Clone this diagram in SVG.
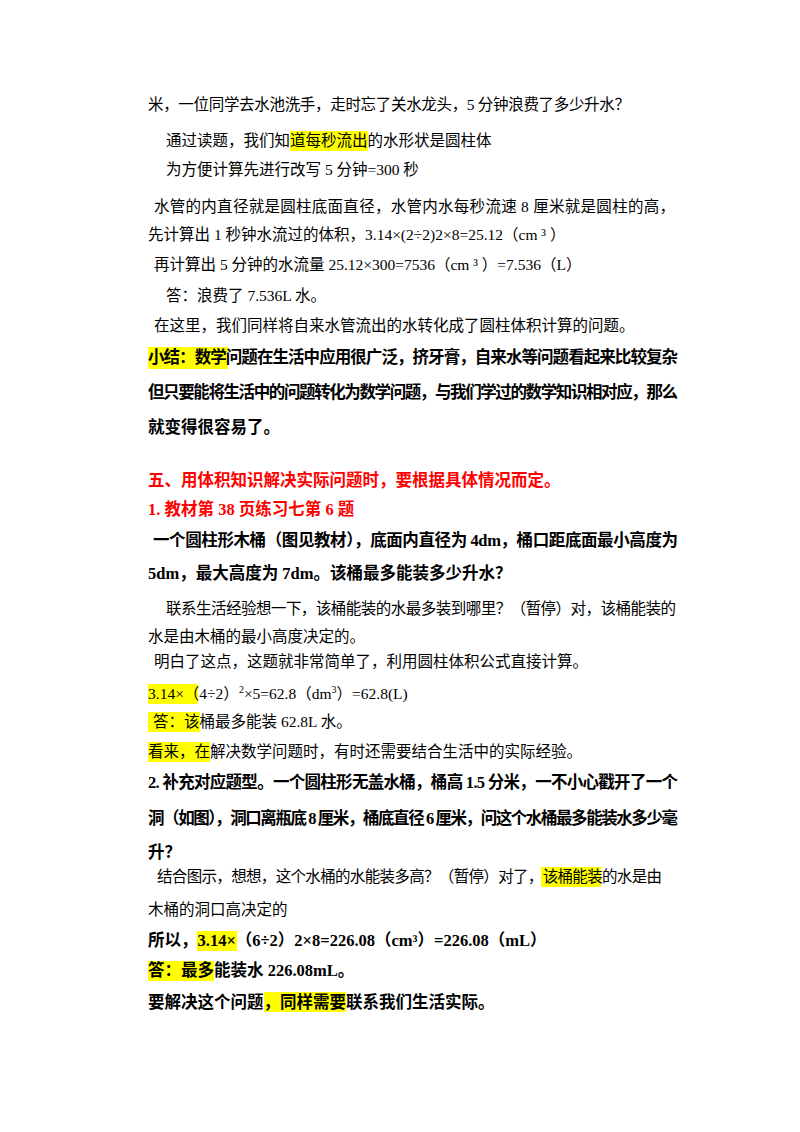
<svg xmlns="http://www.w3.org/2000/svg" width="800" height="1132" viewBox="0 0 800 1132">
<style>
text{font-family:"Liberation Serif","Noto Sans CJK SC",serif;font-size:15.5px;fill:#000}
.b{font-weight:bold;font-size:16.5px}
.r{fill:#ff0000}
.h{fill:#ffff00}
</style>
<rect width="800" height="1132" fill="#fff"/>
<g id="highlights">
<rect class="h" x="290" y="131" width="78" height="20"/>
<rect class="h" x="148" y="347" width="80" height="22"/>
<rect class="h" x="148" y="684" width="50" height="20"/>
<rect class="h" x="148" y="712" width="52" height="20"/>
<rect class="h" x="148" y="742" width="62" height="20"/>
<rect class="h" x="541" y="867" width="60" height="20"/>
<rect class="h" x="197" y="931" width="40" height="20"/>
<rect class="h" x="148" y="961" width="66" height="20"/>
<rect class="h" x="264" y="992" width="82" height="20"/>
</g>
<g id="text">
<text x="148" y="110" textLength="482">米，一位同学去水池洗手，走时忘了关水龙头，5 分钟浪费了多少升水？</text>
<text x="166" y="146">通过读题，我们知道每秒流出的水形状是圆柱体</text>
<text x="166" y="175">为方便计算先进行改写 5 分钟=300 秒</text>
<text x="154" y="212" textLength="521">水管的内直径就是圆柱底面直径，水管内水每秒流速 8 厘米就是圆柱的高，</text>
<text x="148" y="240">先计算出 1 秒钟水流过的体积，3.14×(2÷2)2×8=25.12（cm ³ ）</text>
<text x="154" y="270">再计算出 5 分钟的水流量 25.12×300=7536（cm ³ ）=7.536（L）</text>
<text x="166" y="301">答：浪费了 7.536L 水。</text>
<text x="154" y="331">在这里，我们同样将自来水管流出的水转化成了圆柱体积计算的问题。</text>
<text class="b" x="148" y="363" textLength="530">小结：数学问题在生活中应用很广泛，挤牙膏，自来水等问题看起来比较复杂</text>
<text class="b" x="148" y="398" textLength="530">但只要能将生活中的问题转化为数学问题，与我们学过的数学知识相对应，那么</text>
<text class="b" x="148" y="433">就变得很容易了。</text>
<text class="b r" x="148" y="486">五、用体积知识解决实际问题时，要根据具体情况而定。</text>
<text class="b r" x="148" y="515">1. 教材第 38 页练习七第 6 题</text>
<text class="b" x="153" y="546" textLength="525">一个圆柱形木桶（图见教材），底面内直径为 4dm，桶口距底面最小高度为</text>
<text class="b" x="148" y="579">5dm，最大高度为 7dm。该桶最多能装多少升水？</text>
<text x="166" y="614" textLength="510">联系生活经验想一下，该桶能装的水最多装到哪里？（暂停）对，该桶能装的</text>
<text x="148" y="642">水是由木桶的最小高度决定的。</text>
<text x="154" y="667">明白了这点，这题就非常简单了，利用圆柱体积公式直接计算。</text>
<text x="148" y="699">3.14×（4÷2）<tspan font-size="10" dy="-6">2</tspan><tspan dy="6">×5=62.8（dm</tspan><tspan font-size="10" dy="-6">3</tspan><tspan dy="6">）=62.8(L)</tspan></text>
<text x="153" y="727">答：该桶最多能装 62.8L 水。</text>
<text x="148" y="757">看来，在解决数学问题时，有时还需要结合生活中的实际经验。</text>
<text class="b" x="148" y="788" textLength="530">2. 补充对应题型。一个圆柱形无盖水桶，桶高 1.5 分米，一不小心戳开了一个</text>
<text class="b" x="148" y="824" textLength="530">洞（如图），洞口离瓶底 8 厘米，桶底直径 6 厘米，问这个水桶最多能装水多少毫</text>
<text class="b" x="148" y="858">升？</text>
<text x="157" y="882" textLength="505">结合图示，想想，这个水桶的水能装多高？（暂停）对了，该桶能装的水是由</text>
<text x="148" y="915">木桶的洞口高决定的</text>
<text class="b" x="148" y="946">所以，3.14×（6÷2）2×8=226.08（cm³）=226.08（mL）</text>
<text class="b" x="148" y="976">答：最多能装水 226.08mL。</text>
<text class="b" x="148" y="1008">要解决这个问题，同样需要联系我们生活实际。</text>
</g>
</svg>
